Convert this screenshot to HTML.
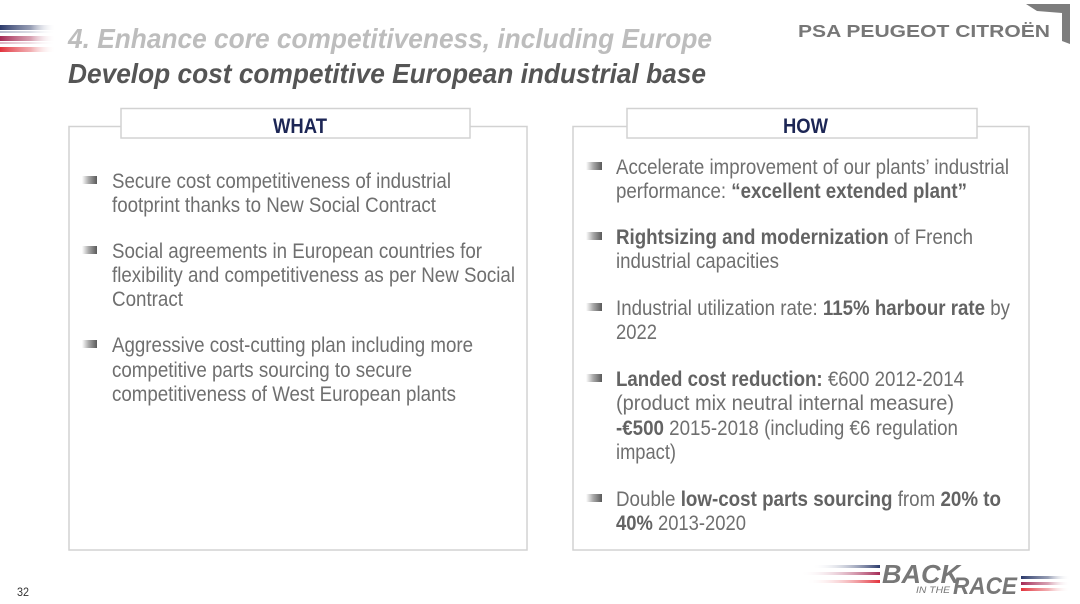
<!DOCTYPE html>
<html>
<head>
<meta charset="utf-8">
<style>
  html,body{margin:0;padding:0;background:#fff;}
  body{width:1080px;height:604px;overflow:hidden;}
  svg{display:block;}
  text{font-family:"Liberation Sans", Arial, sans-serif;}
</style>
</head>
<body>
<svg width="1080" height="604" viewBox="0 0 1080 604" xmlns="http://www.w3.org/2000/svg">
  <defs>
    <linearGradient id="gNavy" x1="0" x2="1" y1="0" y2="0">
      <stop offset="0" stop-color="#2b3a6b"/>
      <stop offset="0.55" stop-color="#6b7595" stop-opacity="0.7"/>
      <stop offset="1" stop-color="#ffffff" stop-opacity="0"/>
    </linearGradient>
    <linearGradient id="gPurp" x1="0" x2="1" y1="0" y2="0">
      <stop offset="0" stop-color="#a52a55"/>
      <stop offset="0.55" stop-color="#c77a92" stop-opacity="0.7"/>
      <stop offset="1" stop-color="#ffffff" stop-opacity="0"/>
    </linearGradient>
    <linearGradient id="gRed" x1="0" x2="1" y1="0" y2="0">
      <stop offset="0" stop-color="#e2323c"/>
      <stop offset="0.55" stop-color="#ec8a8f" stop-opacity="0.7"/>
      <stop offset="1" stop-color="#ffffff" stop-opacity="0"/>
    </linearGradient>
    <linearGradient id="gNavyR" x1="1" x2="0" y1="0" y2="0">
      <stop offset="0" stop-color="#2b3a6b"/>
      <stop offset="1" stop-color="#ffffff" stop-opacity="0"/>
    </linearGradient>
    <linearGradient id="gPurpR" x1="1" x2="0" y1="0" y2="0">
      <stop offset="0" stop-color="#a52a55"/>
      <stop offset="1" stop-color="#ffffff" stop-opacity="0"/>
    </linearGradient>
    <linearGradient id="gRedR" x1="1" x2="0" y1="0" y2="0">
      <stop offset="0" stop-color="#e2323c"/>
      <stop offset="1" stop-color="#ffffff" stop-opacity="0"/>
    </linearGradient>
    <linearGradient id="gBul" x1="0" x2="1" y1="0" y2="0">
      <stop offset="0" stop-color="#ffffff"/>
      <stop offset="0.45" stop-color="#a8a8a8"/>
      <stop offset="1" stop-color="#5a5a5a"/>
    </linearGradient>
  </defs>

  <!-- top-left stripes -->
  <rect x="0" y="25" width="56" height="5" fill="url(#gNavy)"/>
  <rect x="0" y="31" width="56" height="2" fill="url(#gNavy)" opacity="0.35"/>
  <rect x="0" y="36" width="56" height="5" fill="url(#gPurp)"/>
  <rect x="0" y="42" width="56" height="2" fill="url(#gPurp)" opacity="0.35"/>
  <rect x="0" y="47" width="56" height="5" fill="url(#gRed)"/>

  <!-- Titles -->
  <text x="68" y="48" font-size="27.5" font-weight="bold" font-style="italic" fill="#bdbdbd" textLength="644" lengthAdjust="spacingAndGlyphs">4. Enhance core competitiveness, including Europe</text>
  <text x="68" y="83" font-size="27.5" font-weight="bold" font-style="italic" fill="#555555" textLength="638" lengthAdjust="spacingAndGlyphs">Develop cost competitive European industrial base</text>

  <!-- PSA logo -->
  <text x="798" y="37" font-size="17.5" font-weight="bold" fill="#777777" textLength="252" lengthAdjust="spacingAndGlyphs">PSA PEUGEOT CITROËN</text>
  <polygon points="1026,4 1070,4 1070,44 1062,41 1062,13 1037,11" fill="#7d7d7d"/>

  <!-- Boxes -->
  <rect x="69" y="126.5" width="458" height="423.5" fill="#ffffff" stroke="#d2d2d2" stroke-width="1.5"/>
  <rect x="573" y="126.5" width="456" height="423.5" fill="#ffffff" stroke="#d2d2d2" stroke-width="1.5"/>
  <rect x="121" y="108.5" width="349" height="29.5" fill="#ffffff" stroke="#d2d2d2" stroke-width="1.5"/>
  <rect x="627" y="108.5" width="350" height="29.5" fill="#ffffff" stroke="#d2d2d2" stroke-width="1.5"/>

  <text x="273" y="133" font-size="21" font-weight="bold" fill="#1c2655" textLength="54" lengthAdjust="spacingAndGlyphs">WHAT</text>
  <text x="783" y="133" font-size="21" font-weight="bold" fill="#1c2655" textLength="45" lengthAdjust="spacingAndGlyphs">HOW</text>

  <!-- Left bullets -->
  <rect x="82" y="176" width="15" height="8" fill="url(#gBul)"/>
  <rect x="82" y="246" width="15" height="8" fill="url(#gBul)"/>
  <rect x="82" y="340" width="15" height="8" fill="url(#gBul)"/>

  <g font-size="21.5" fill="#6f6f6f">
    <text x="112" y="188" textLength="339" lengthAdjust="spacingAndGlyphs">Secure cost competitiveness of industrial</text>
    <text x="112" y="212" textLength="324" lengthAdjust="spacingAndGlyphs">footprint thanks to New Social Contract</text>
    <text x="112" y="258" textLength="370" lengthAdjust="spacingAndGlyphs">Social agreements in European countries for</text>
    <text x="112" y="282" textLength="403" lengthAdjust="spacingAndGlyphs">flexibility and competitiveness as per New Social</text>
    <text x="112" y="306" textLength="71" lengthAdjust="spacingAndGlyphs">Contract</text>
    <text x="112" y="352" textLength="361" lengthAdjust="spacingAndGlyphs">Aggressive cost-cutting plan including more</text>
    <text x="112" y="377" textLength="300" lengthAdjust="spacingAndGlyphs">competitive parts sourcing to secure</text>
    <text x="112" y="401" textLength="344" lengthAdjust="spacingAndGlyphs">competitiveness of West European plants</text>
  </g>

  <!-- Right bullets -->
  <rect x="586" y="162" width="16" height="8" fill="url(#gBul)"/>
  <rect x="586" y="232" width="16" height="8" fill="url(#gBul)"/>
  <rect x="586" y="303" width="16" height="8" fill="url(#gBul)"/>
  <rect x="586" y="374" width="16" height="8" fill="url(#gBul)"/>
  <rect x="586" y="494" width="16" height="8" fill="url(#gBul)"/>

  <g font-size="21.5" fill="#6f6f6f">
    <text x="616" y="174" textLength="393" lengthAdjust="spacingAndGlyphs">Accelerate improvement of our plants’ industrial</text>
    <text x="616" y="198" textLength="351" lengthAdjust="spacingAndGlyphs">performance: <tspan font-weight="bold" fill="#636363">“excellent extended plant”</tspan></text>
    <text x="616" y="244" textLength="357" lengthAdjust="spacingAndGlyphs"><tspan font-weight="bold" fill="#636363">Rightsizing and modernization</tspan> of French</text>
    <text x="616" y="268" textLength="163" lengthAdjust="spacingAndGlyphs">industrial capacities</text>
    <text x="616" y="315" textLength="394" lengthAdjust="spacingAndGlyphs">Industrial utilization rate: <tspan font-weight="bold" fill="#636363">115% harbour rate</tspan> by</text>
    <text x="616" y="339" textLength="41" lengthAdjust="spacingAndGlyphs">2022</text>
    <text x="616" y="386" textLength="348" lengthAdjust="spacingAndGlyphs"><tspan font-weight="bold" fill="#636363">Landed cost reduction:</tspan> €600 2012-2014</text>
    <text x="616" y="410" textLength="338" lengthAdjust="spacingAndGlyphs">(product mix neutral internal measure)</text>
    <text x="616" y="435" textLength="342" lengthAdjust="spacingAndGlyphs"><tspan font-weight="bold" fill="#636363">-€500</tspan> 2015-2018 (including €6 regulation</text>
    <text x="616" y="459" textLength="60" lengthAdjust="spacingAndGlyphs">impact)</text>
    <text x="616" y="506" textLength="385" lengthAdjust="spacingAndGlyphs">Double <tspan font-weight="bold" fill="#636363">low-cost parts sourcing</tspan> from <tspan font-weight="bold" fill="#636363">20% to</tspan></text>
    <text x="616" y="530" textLength="130" lengthAdjust="spacingAndGlyphs"><tspan font-weight="bold" fill="#636363">40%</tspan> 2013-2020</text>
  </g>

  <!-- Page number -->
  <text x="17" y="596" font-size="12" fill="#333333" textLength="12" lengthAdjust="spacingAndGlyphs">32</text>

  <!-- Back in the race logo -->
  <rect x="812" y="565" width="68" height="3" fill="url(#gNavyR)"/>
  <rect x="800" y="572" width="80" height="3" fill="url(#gPurpR)"/>
  <rect x="806" y="580" width="74" height="3" fill="url(#gRedR)"/>
  <text x="882" y="583" font-size="26" font-weight="bold" font-style="italic" fill="#777777" textLength="78" lengthAdjust="spacingAndGlyphs">BACK</text>
  <text x="916" y="593" font-size="9" font-style="italic" fill="#777777" textLength="34" lengthAdjust="spacingAndGlyphs">IN THE</text>
  <text x="953" y="594" font-size="24" font-weight="bold" font-style="italic" fill="#777777" textLength="64" lengthAdjust="spacingAndGlyphs">RACE</text>
  <rect x="1021" y="576" width="49" height="3" fill="url(#gNavy)"/>
  <rect x="1021" y="582" width="49" height="3" fill="url(#gPurp)"/>
  <rect x="1021" y="588" width="49" height="3" fill="url(#gRed)"/>
</svg>
</body>
</html>
